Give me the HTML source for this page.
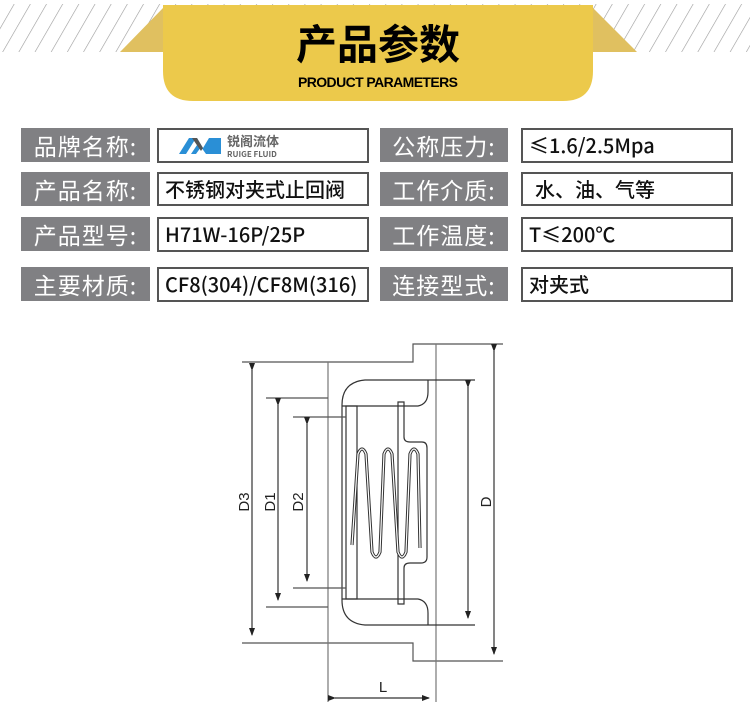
<!DOCTYPE html>
<html><head><meta charset="utf-8"><style>
body{margin:0;width:750px;height:728px;background:#fff;overflow:hidden;position:relative;font-family:"Liberation Sans","Noto Sans CJK SC",sans-serif}
.lab{position:absolute;background:#808083;color:#fff;font-size:23px;line-height:34px;height:34px;text-align:center;letter-spacing:1px;font-family:"Noto Sans CJK SC",sans-serif}
.val{position:absolute;box-sizing:border-box;border:2px solid #555;background:#fff;color:#111;font-size:20px;font-weight:500;line-height:30px;padding-left:6px;font-family:"Noto Sans CJK SC",sans-serif}
</style></head><body>
<svg width="750" height="110" style="position:absolute;left:0;top:0">
<defs><pattern id="st" width="14" height="20" patternUnits="userSpaceOnUse" patternTransform="rotate(30)"><line x1="0" y1="0" x2="0" y2="20" stroke="#9a9a9a" stroke-width="1.2"/></pattern></defs>
<rect x="0" y="4" width="750" height="48" fill="url(#st)"/>
<polygon points="120,52 163,8 163,52" fill="#e0c060"/>
<polygon points="637,52 593,8 593,52" fill="#e0c060"/>
<path d="M163 5 H593 V71 Q593 101 563 101 H193 Q163 101 163 71 Z" fill="#ecc94b"/>
<text x="378" y="59" text-anchor="middle" font-size="41" font-weight="bold" font-family="Noto Sans CJK SC,sans-serif" fill="#000">产品参数</text>
<text x="378" y="87" text-anchor="middle" font-size="14" font-weight="bold" font-family="Liberation Sans Narrow,Liberation Sans,sans-serif" fill="#000" textLength="160">PRODUCT PARAMETERS</text>
</svg>

<div class="lab" style="left:21px;top:128px;width:129px">品牌名称:</div>
<div class="val" style="left:157px;top:128px;width:212px;height:35px">
<svg width="200" height="30" style="position:absolute;left:0;top:0">
<path d="M20 24 L30 8 H37 L27 24 Z" fill="#2a8fd6"/>
<path d="M33 8 H38 L44 18 L50 8 H62 V24 H47 L42 17 L37 24 H32 L40 12 Z" fill="#2a8fd6"/>
<path d="M33 8 H38 L44 18 L42 21 Z" fill="#555"/>
<text x="68" y="16" font-size="13" font-weight="bold" fill="#666" font-family="Noto Sans CJK SC,sans-serif">锐阁流体</text>
<text x="68" y="27" font-size="8" font-weight="bold" fill="#666">RUIGE FLUID</text></svg></div>
<div class="lab" style="left:21px;top:172px;width:129px">产品名称:</div>
<div class="val" style="left:157px;top:172px;width:212px;height:34px">不锈钢对夹式止回阀</div>
<div class="lab" style="left:21px;top:217px;width:129px">产品型号:</div>
<div class="val" style="left:157px;top:217px;width:212px;height:35px">H71W-16P/25P</div>
<div class="lab" style="left:21px;top:267px;width:129px">主要材质:</div>
<div class="val" style="left:157px;top:267px;width:212px;height:35px">CF8(304)/CF8M(316)</div>

<div class="lab" style="left:380px;top:128px;width:128px">公称压力:</div>
<div class="val" style="left:521px;top:128px;width:212px;height:35px">≤1.6/2.5Mpa</div>
<div class="lab" style="left:380px;top:172px;width:128px">工作介质:</div>
<div class="val" style="left:521px;top:172px;width:212px;height:34px;padding-left:12px">水、油、气等</div>
<div class="lab" style="left:380px;top:217px;width:128px">工作温度:</div>
<div class="val" style="left:521px;top:217px;width:212px;height:35px">T≤200℃</div>
<div class="lab" style="left:380px;top:267px;width:128px">连接型式:</div>
<div class="val" style="left:521px;top:267px;width:212px;height:35px">对夹式</div>

<svg width="750" height="728" style="position:absolute;left:0;top:0" fill="none" stroke="#333" stroke-width="1.2">
<defs><marker id="a" markerWidth="8" markerHeight="8" refX="7" refY="4" orient="auto" markerUnits="userSpaceOnUse"><path d="M0 1 L8 4 L0 7Z" fill="#222" stroke="none"/></marker></defs>
<path d="M242 362 H413 V344 H503 M242 643 H413 V661 H503" stroke="#555"/>
<path d="M328 362 V702 M436 344 V702" stroke="#777"/>
<path d="M475 380 H365 Q342 382 342 405 V600 Q342 623 365 625 H475" />
<path d="M342 406 H418 Q428 404 428 392 V380 M342 599 H418 Q428 601 428 613 V625"/>
<rect x="346" y="406" width="11" height="193"/>
<path d="M398 402 H404 V437 Q404 442 410 442 H422 Q427 442 427 448 V557 Q427 563 421 563 H410 Q404 563 404 568 V604 H398 Z"/>
<g stroke-linejoin="round">
<path id="sp" d="M352 545 L358 454 Q362 444 366 454 L372 552 Q376 562 380 552 L384 454 Q388 444 392 454 L398 552 Q402 562 406 552 L410 454 Q414 444 418 454 L420 548" stroke="#333" stroke-width="3.2"/>
<path d="M352 545 L358 454 Q362 444 366 454 L372 552 Q376 562 380 552 L384 454 Q388 444 392 454 L398 552 Q402 562 406 552 L410 454 Q414 444 418 454 L420 548" stroke="#fff" stroke-width="1.2"/>
</g>
<path d="M266 398 H328 M266 607 H328 M293 417 H346 M293 588 H346" stroke="#555"/>
<line x1="252" y1="370" x2="252" y2="635" marker-start="url(#a)" marker-end="url(#a)"/>
<line x1="278" y1="405" x2="278" y2="600" marker-start="url(#a)" marker-end="url(#a)"/>
<line x1="307" y1="424" x2="307" y2="581" marker-start="url(#a)" marker-end="url(#a)"/>
<line x1="468" y1="387" x2="468" y2="618" marker-start="url(#a)" marker-end="url(#a)"/>
<line x1="494" y1="351" x2="494" y2="654" marker-start="url(#a)" marker-end="url(#a)"/>
<line x1="335" y1="698" x2="429" y2="698" marker-start="url(#a)" marker-end="url(#a)"/>
<g fill="#222" stroke="none" font-size="15" font-family="Liberation Sans,sans-serif">
<text transform="translate(249,502) rotate(-90)" text-anchor="middle">D3</text>
<text transform="translate(275,502) rotate(-90)" text-anchor="middle">D1</text>
<text transform="translate(303,502) rotate(-90)" text-anchor="middle">D2</text>
<text transform="translate(491,502) rotate(-90)" text-anchor="middle">D</text>
<text x="383" y="692" text-anchor="middle">L</text></g>
</svg>
</body></html>
